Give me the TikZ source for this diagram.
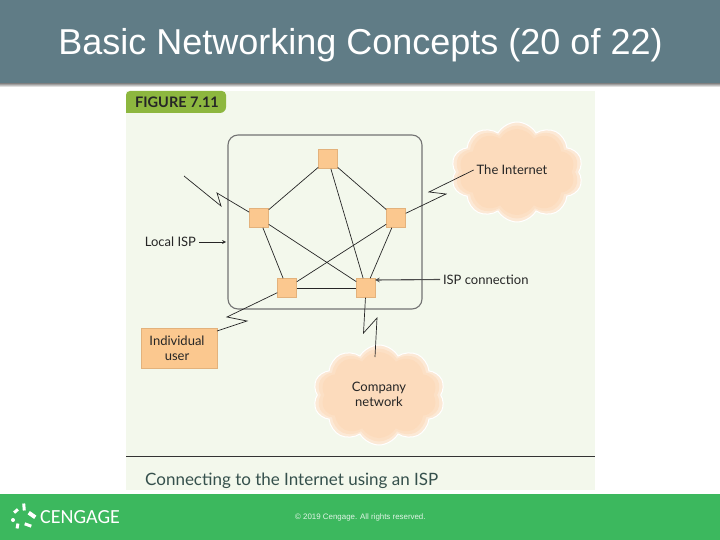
\documentclass[tikz,border=0pt]{standalone}
\usepackage{fontspec}
\setmainfont{Liberation Sans}
\newfontfamily\figfont{Lato}
\newfontfamily\logofont{Carlito}
\usetikzlibrary{shapes.symbols, arrows}
\definecolor{headgray}{HTML}{607C86}
\definecolor{footgreen}{HTML}{3CB85E}
\definecolor{panelbg}{HTML}{F3F8EC}
\definecolor{taggreen}{HTML}{8DB73F}
\definecolor{boxorange}{HTML}{FBC88F}
\definecolor{boxedge}{HTML}{E3B27C}
\definecolor{cloudlight}{HTML}{FCE9D6}
\definecolor{cloudmid}{HTML}{FCE0C5}
\definecolor{cloudcentre}{HTML}{FCDBBC}
\definecolor{captiongray}{HTML}{35504C}
\tikzstyle{router} = [rectangle, minimum size=19pt, inner sep=0pt, draw=boxedge, fill=boxorange, line width=0.5pt]
\tikzstyle{userbox} = [rectangle, minimum width=76pt, minimum height=40pt, inner sep=0pt, align=center, draw=boxedge, fill=boxorange, font=\figfont\fontsize{13}{16}\selectfont, text=black!85]
\tikzstyle{cloudedge} = [cloud, cloud puffs=10, cloud puff arc=120, aspect=1.3, inner sep=0pt, minimum width=132pt, minimum height=100pt, draw=white, line width=1pt, fill=cloudlight]
\tikzstyle{cloudinner} = [cloud, cloud puffs=10, cloud puff arc=120, aspect=1.3, inner sep=0pt, minimum width=124pt, minimum height=93pt, fill=cloudmid]
\tikzstyle{cloudcore} = [cloud, cloud puffs=10, cloud puff arc=120, aspect=1.3, inner sep=0pt, minimum width=116pt, minimum height=86pt, fill=cloudcentre]
\tikzstyle{label} = [inner sep=0pt, outer sep=3pt, align=center, font=\figfont\fontsize{13}{16}\selectfont, text=black!85]
\tikzstyle{link} = [line width=0.7pt, black!85]
\tikzstyle{arrow} = [line width=0.7pt, black!85, ->, >=stealth]
\begin{document}
\begin{tikzpicture}[x=1pt, y=-1pt]
        \useasboundingbox (0,0) rectangle (720,540);
        \fill[white] (0,0) rectangle (720,540);
        % header and footer
        \shade[top color=black!50, bottom color=white] (0,83) rectangle (720,87);
        \fill[headgray] (0,0) rectangle (720,83);
        \fill[footgreen] (0,494) rectangle (720,540);
        \node (title) [text=white, font=\fontsize{36}{40}\selectfont] at (360.5,45) {Basic Networking Concepts (20 of 22)};
        % figure panel
        \fill[panelbg] (126,91) rectangle (595,490);
        \fill[taggreen] (126,113) -- (126,95) [rounded corners=4pt] -- (126,91) -- (226,91) [rounded corners=6pt] -- (226,113) [sharp corners] -- cycle;
        \node (tag) [anchor=west, inner sep=0pt, text=black!85, font=\figfont\bfseries\fontsize{14.5}{16}\selectfont] at (135,102) {FIGURE 7.11};
        \draw[black!80, line width=0.9pt] (126,456.5) -- (595,456.5);
        \node (caption) [anchor=west, inner sep=0pt, text=captiongray, font=\figfont\fontsize{17}{18}\selectfont] at (145,481) {Connecting to the Internet using an ISP};

        \node (ispframe) [rectangle, rounded corners=10pt, minimum width=194pt, minimum height=174pt, draw=black!55, line width=1.1pt] at (325,222) {};

        \node (cloudnet) [cloudedge] at (517,172) {};
        \node (innernet) [cloudinner] at (517,172) {};
        \node (corenet) [cloudcore] at (517,172) {};
        \node (cloudcomp) [cloudedge] at (379,395) {};
        \node (innercomp) [cloudinner] at (379,395) {};
        \node (corecomp) [cloudcore] at (379,395) {};

        \node (top) [router] at (328,159) {};
        \node (left) [router] at (259,218) {};
        \node (right) [router] at (396,218) {};
        \node (lowl) [router] at (287,288) {};
        \node (lowr) [router] at (366,288) {};
        \node (user) [userbox] at (179,348) {\hspace{-4pt}Individual\\[-1pt]\hspace{-4pt}user};

        \node (netlabel) [label] at (512,170) {The Internet};
        \node (complabel) [label] at (379,394.5) {Company\\[-1pt]network};
        \node (lisplabel) [label, anchor=east] at (199,242) {Local ISP};
        \node (connlabel) [label, anchor=west] at (440,279.5) {ISP connection};
        \coordinate (lispend) at (226,242);
        \coordinate (connend) at (375,280);

        \coordinate (far) at (184,176);
        \coordinate (farb) at (221,206);
        \coordinate (fara) at (217,193);
        \coordinate (netb) at (446,194);
        \coordinate (neta) at (429,192);
        \coordinate (userc) at (217,331);
        \coordinate (userb) at (247,321);
        \coordinate (usera) at (227,317);
        \coordinate (compa) at (363.5,333);
        \coordinate (compb) at (377,318);
        \coordinate (compc) at (375,357);

        \draw[link] (top) -- (left);
        \draw[link] (top) -- (right);
        \draw[link] (top) -- (lowr);
        \draw[link] (left) -- (lowl);
        \draw[link] (left) -- (lowr);
        \draw[link] (lowl) -- (right);
        \draw[link] (lowl) -- (lowr);
        \draw[link] (right) -- (lowr);

        \draw[link] (far) -- (farb) -- (fara) -- (left);
        \draw[link] (right) -- (netb) -- (neta) -- (netlabel.west);
        \draw[link] (userc) -- (userb) -- (usera) -- (lowl);
        \draw[link] (lowr) -- (compa) -- (compb) -- (compc);

        \draw[arrow] (lisplabel) -- (lispend);
        \draw[arrow, line width=1.1pt, black!70] (connlabel.west) -- (connend);

        % logo
        \fill[white, rotate around={5:(24,507)}] (22.5,503.5) rectangle (25.5,510.5);
        \fill[white, rotate around={40:(16,511)}] (13.5,509.5) rectangle (18.5,512.5);
        \fill[white, rotate around={-35:(32,515)}] (28,513) rectangle (36,517);
        \fill[white] (13,520) circle (2pt);
        \fill[white, rotate around={80:(17.5,526)}] (15,524.5) rectangle (20,527.5);
        \fill[white, rotate around={-20:(28,525)}] (24.5,523.5) rectangle (31.5,526.5);
        \node (logo) [anchor=west, inner sep=0pt, text=white, font=\logofont\fontsize{20}{22}\selectfont] at (40,517) {CENGAGE};
        \node (copyright) [anchor=west, inner sep=0pt, text=white!85!footgreen, font=\fontsize{7.9}{9}\selectfont] at (295,517.5) {© 2019 Cengage. All rights reserved.};
\end{tikzpicture}
\end{document}
